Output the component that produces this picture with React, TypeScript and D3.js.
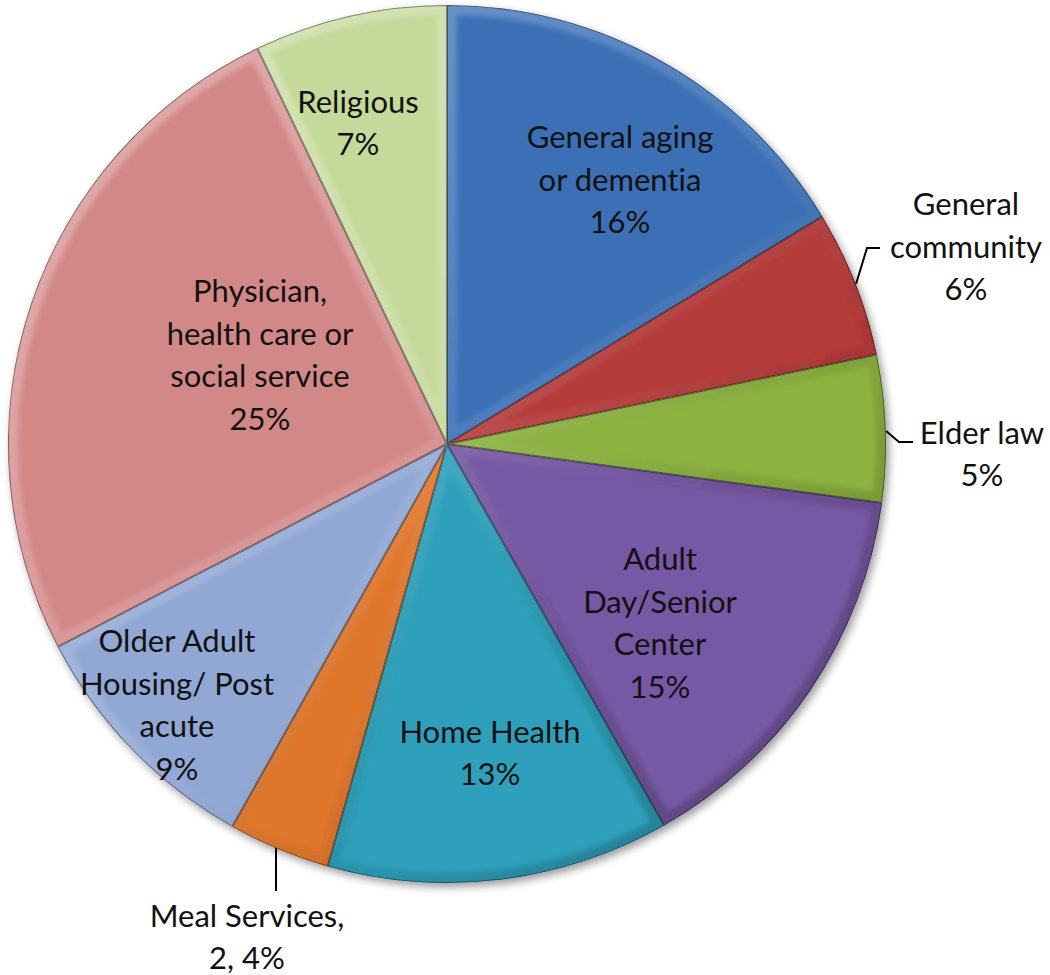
import React from "react";
import * as d3 from "d3";

const categories = [
  "General aging or dementia",
  "General community",
  "Elder law",
  "Adult Day/Senior Center",
  "Home Health",
  "Meal Services",
  "Older Adult Housing/ Post acute",
  "Physician, health care or social service",
  "Religious",
];
const values = [16.3, 5.4, 5.4, 14.6, 12.6, 3.75, 9.2, 25.5, 7.1];
const labelTexts = [
  ["General aging", "or dementia", "16%"],
  ["General", "community", "6%"],
  ["Elder law", "5%"],
  ["Adult", "Day/Senior", "Center", "15%"],
  ["Home Health", "13%"],
  ["Meal Services,", "2, 4%"],
  ["Older Adult", "Housing/ Post", "acute", "9%"],
  ["Physician,", "health care or", "social service", "25%"],
  ["Religious", "7%"],
];
const colors = [
  "#3a70b6",
  "#b63b3a",
  "#8cb23f",
  "#7758a4",
  "#2fa0bb",
  "#e0762a",
  "#91a8d5",
  "#d38888",
  "#c5d99a",
];

// layout (label block centres relative to pie centre)
const labelOffsets: [number, number][] = [
  [173, -264],
  [519, -197],
  [535, 10],
  [213, 179],
  [43, 309],
  [-200, 493],
  [-270, 261],
  [-187, -89],
  [-89, -321],
];
// leader lines: points relative to centre
const leaders: { i: number; pts: [number, number][] }[] = [
  { i: 1, pts: [[409, -160], [420, -196], [433, -196]] },
  { i: 2, pts: [[439, -13], [452, -2], [466, -2]] },
  { i: 5, pts: [[-171, 404], [-171, 447]] },
];

const W = 1050;
const H = 975;
const cx = 447;
const cy = 444;
const R = 439;
const lineH = 42.5;

export default function App() {
  const pie = d3.pie<number>().sort(null).value((d) => d);
  const arcs = pie(values);
  const arc = d3.arc<d3.PieArcDatum<number>>().innerRadius(0).outerRadius(R);

  return (
    <svg width={W} height={H} style={{ display: "block", position: "absolute", left: 0, top: 0 }}>
      <defs>
        <filter id="shadow" x="-10%" y="-10%" width="120%" height="120%">
          <feGaussianBlur in="SourceAlpha" stdDeviation="4" />
          <feOffset dx="3" dy="4" result="b" />
          <feComponentTransfer>
            <feFuncA type="linear" slope="0.4" />
          </feComponentTransfer>
          <feMerge>
            <feMergeNode />
            <feMergeNode in="SourceGraphic" />
          </feMerge>
        </filter>
        <linearGradient id="bevel" gradientUnits="userSpaceOnUse" x1={-R} y1={-R} x2={R} y2={R}>
          <stop offset="0" stopColor="#ffffff" stopOpacity="0.35" />
          <stop offset="0.5" stopColor="#ffffff" stopOpacity="0.1" />
          <stop offset="0.7" stopColor="#000000" stopOpacity="0.08" />
          <stop offset="1" stopColor="#000000" stopOpacity="0.3" />
        </linearGradient>
        <filter id="soft">
          <feGaussianBlur stdDeviation="2.5" />
        </filter>
        {arcs.map((a, i) => (
          <clipPath id={`clip${i}`} key={i}>
            <path d={arc(a) || ""} />
          </clipPath>
        ))}
      </defs>
      <g transform={`translate(${cx},${cy})`}>
        <g filter="url(#shadow)">
          {arcs.map((a, i) => (
            <path key={i} d={arc(a) || ""} fill={colors[i]} />
          ))}
        </g>
        {arcs.map((a, i) => (
          <g key={i} clipPath={`url(#clip${i})`}>
            <path
              d={arc(a) || ""}
              fill="none"
              stroke="url(#bevel)"
              strokeWidth={20}
              strokeLinejoin="miter"
              filter="url(#soft)"
            />
            <path d={arc(a) || ""} fill="none" stroke="#000" strokeOpacity={0.4} strokeWidth={2} />
          </g>
        ))}
        {leaders.map((l, k) => (
          <polyline
            key={k}
            points={l.pts.map((p) => p.join(",")).join(" ")}
            fill="none"
            stroke="#000"
            strokeWidth={2}
          />
        ))}
        {labelTexts.map((lines, i) => {
          const [lx, ly] = labelOffsets[i];
          const y0 = ly - ((lines.length - 1) * lineH) / 2;
          return (
            <text
              key={i}
              x={lx}
              textAnchor="middle"
              fontFamily="Lato, 'Open Sans', sans-serif"
              fontSize={31}
              fill="#111"
              style={{ fontVariantLigatures: "none" }}
            >
              {lines.map((t, j) => (
                <tspan key={j} x={lx} y={y0 + j * lineH} dy="0.35em">
                  {t}
                </tspan>
              ))}
            </text>
          );
        })}
      </g>
    </svg>
  );
}
